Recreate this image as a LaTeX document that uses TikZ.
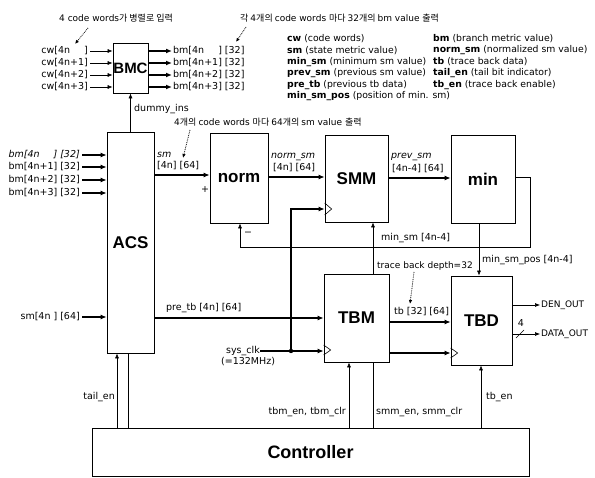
\documentclass[tikz,border=0pt]{standalone}
\usepackage{fontspec}
\setmainfont{DejaVu Sans}
\newfontfamily\kr{Noto Sans CJK KR}
\newfontfamily\titlef{Liberation Sans}
\usetikzlibrary{arrows.meta,calc}
\newcommand\lblfont{\fontsize{9.5}{10}\selectfont}
\newcommand\outfont{\fontsize{9}{10}\selectfont}
\newcommand\legfont{\fontsize{9.3}{10}\selectfont}
\newcommand\annfont{\fontsize{9}{10}\selectfont}
\newcommand\boxfont{\titlef\bfseries\fontsize{17}{17}\selectfont}
\begin{document}
\begin{tikzpicture}[x=1pt,y=-1pt]
\tikzset{
 box/.style={draw, line width=0.7pt, fill=white, inner sep=0pt, font=\boxfont},
 lbl/.style={inner sep=0pt, font=\lblfont},
 ilbl/.style={inner sep=0pt, font=\lblfont\itshape},
 ann/.style={inner sep=0pt, anchor=west, font=\annfont},
 leg/.style={inner sep=0pt, anchor=west, font=\legfont},
 sig/.style={line width=0.6pt, -{Latex[length=5pt,width=4pt]}},
 bus/.style={line width=1.4pt, -{Latex[length=6pt,width=5pt]}},
 wire/.style={line width=0.6pt},
 thick wire/.style={line width=1.4pt},
 note/.style={densely dotted, line width=0.8pt, -{Latex[length=4pt,width=3.5pt]}},
 clkmark/.style={line width=0.6pt}
}
\useasboundingbox (0,0) rectangle (595,478);

% ---------- blocks ----------
\node[box, minimum width=35pt, minimum height=50pt, font=\titlef\bfseries\fontsize{15}{15}\selectfont] (BMC) at (130.5,68) {BMC};
\node[box, minimum width=47pt, minimum height=221pt] (ACS) at (130.5,242.5) {ACS};
\node[box, minimum width=58pt, minimum height=90pt] (norm) at (239,178) {norm};
\node[box, minimum width=63pt, minimum height=87pt] (SMM) at (356.5,178.5) {SMM};
\node[box, minimum width=64pt, minimum height=88pt] (min) at (483,179) {min};
\node[box, minimum width=65pt, minimum height=88pt] (TBM) at (356.5,318) {TBM};
\node[box, minimum width=61pt, minimum height=89pt] (TBD) at (481.5,320.5) {TBD};
\node[box, minimum width=437pt, minimum height=48pt, font=\titlef\bfseries\fontsize{18}{18}\selectfont] (ctrl) at (310.5,452) {Controller};

% ---------- annotations ----------
\node[ann] (ann1) at (59,18) {4 code words{\kr 가 병렬로 입력}};
\node[ann] (ann2) at (240,18) {{\kr 각 }4{\kr 개의 }code words {\kr 마다 }32{\kr 개의 }bm value {\kr 출력}};
\node[ann] (ann3) at (174,122) {4{\kr 개의 }code words {\kr 마다 }64{\kr 개의 }sm value {\kr 출력}};
\node[ann] (ann4) at (377,266) {trace back depth=32};
\coordinate (n1a) at (88,28); \coordinate (n1b) at (75,44);
\coordinate (n2a) at (246,27); \coordinate (n2b) at (236,42);
\coordinate (n3a) at (190,130); \coordinate (n3b) at (183,158);
\coordinate (n4a) at (414,272); \coordinate (n4b) at (410,304);
\draw[note] (n1a) -- (n1b);
\draw[note] (n2a) -- (n2b);
\draw[note] (n3a) -- (n3b);
\draw[note] (n4a) -- (n4b);

% ---------- legend ----------
\node[leg] (l1) at (287,39) {\textbf{cw} (code words)};
\node[leg] (l2) at (287,50.5) {\textbf{sm} (state metric value)};
\node[leg] (l3) at (287,62) {\textbf{min\_sm} (minimum sm value)};
\node[leg] (l4) at (287,73.5) {\textbf{prev\_sm} (previous sm value)};
\node[leg] (l5) at (287,85) {\textbf{pre\_tb} (previous tb data)};
\node[leg] (l6) at (287,96.5) {\textbf{min\_sm\_pos} (position of min. sm)};
\node[leg] (r1) at (433,39) {\textbf{bm} (branch metric value)};
\node[leg] (r2) at (433,50.5) {\textbf{norm\_sm} (normalized sm value)};
\node[leg] (r3) at (433,62) {\textbf{tb} (trace back data)};
\node[leg] (r4) at (433,73.5) {\textbf{tail\_en} (tail bit indicator)};
\node[leg] (r5) at (433,85) {\textbf{tb\_en} (trace back enable)};

% ---------- BMC inputs / outputs ----------
\node[lbl, anchor=east] (cw0) at (88,51) {cw[4n\phantom{+1}]};
\node[lbl, anchor=east] (cw1) at (88,63) {cw[4n+1]};
\node[lbl, anchor=east] (cw2) at (88,75) {cw[4n+2]};
\node[lbl, anchor=east] (cw3) at (88,87) {cw[4n+3]};
\foreach \n in {cw0,cw1,cw2,cw3}
  \draw[sig] ([xshift=2pt]\n.east) -- (BMC.west |- \n.east);
\node[lbl, anchor=west] (bmo0) at (173,51) {bm[4n\phantom{+1}] [32]};
\node[lbl, anchor=west] (bmo1) at (173,63) {bm[4n+1] [32]};
\node[lbl, anchor=west] (bmo2) at (173,75) {bm[4n+2] [32]};
\node[lbl, anchor=west] (bmo3) at (173,87) {bm[4n+3] [32]};
\foreach \n in {bmo0,bmo1,bmo2,bmo3}
  \draw[bus] (BMC.east |- \n.west) -- ([xshift=-1pt]\n.west);

\draw[sig] (ACS.north) -- (BMC.south);
\node[lbl, anchor=west] (dummy) at (134,109) {dummy\_ins};

% ---------- ACS inputs ----------
\node[ilbl, anchor=east] (bmi0) at (80,155) {bm[4n\phantom{+1}] [32]};
\node[lbl, anchor=east] (bmi1) at (80,167) {bm[4n+1] [32]};
\node[lbl, anchor=east] (bmi2) at (80,180) {bm[4n+2] [32]};
\node[lbl, anchor=east] (bmi3) at (80,193) {bm[4n+3] [32]};
\foreach \n in {bmi0,bmi1,bmi2,bmi3}
  \draw[bus, line width=1.2pt] ([xshift=2pt]\n.east) -- (ACS.west |- \n.east);
\node[lbl, anchor=east] (smin) at (80,317) {sm[4n ] [64]};
\draw[bus, line width=1.2pt] ([xshift=2pt]smin.east) -- (ACS.west |- smin.east);

% ---------- sm -> norm -> SMM -> min ----------
\draw[bus] (ACS.east |- 0,175) -- (norm.west |- 0,175);
\node[ilbl, anchor=west] (smlab) at (157,155) {sm};
\node[lbl, anchor=west] (smlab2) at (157,166) {[4n] [64]};
\node[lbl] (plus) at (205,190) {+};
\node[lbl] (minus) at (248,234) {\textminus};

\draw[bus] (norm.east |- 0,177) -- (SMM.west |- 0,177);
\node[ilbl, anchor=west] (nslab) at (271,157) {norm\_sm};
\node[lbl, anchor=west] (nslab2) at (273,168) {[4n] [64]};

\draw[bus] (SMM.east |- 0,178) -- (min.west |- 0,178);
\node[ilbl, anchor=west] (pslab) at (391,157) {prev\_sm};
\node[lbl, anchor=west] (pslab2) at (392,169) {[4n-4] [64]};

% ---------- min outputs ----------
\coordinate (mj) at (479,247);
\draw[sig] (min.south -| mj) -- (TBD.north -| mj);
\draw[wire] (min.east |- 0,177) -- (530,177) -- (530,247) -- (mj);
\draw[sig] (mj) -- (240,247) -- (norm.south -| 240,0);
\node[lbl, anchor=west] (mslab) at (381,238) {min\_sm [4n-4]};
\node[lbl, anchor=west] (mplab) at (482,260) {min\_sm\_pos [4n-4]};

% ---------- pre_tb ----------
\draw[bus] (ACS.east |- 0,318) -- (TBM.west |- 0,318);
\node[lbl, anchor=west] (ptlab) at (166,308) {pre\_tb [4n] [64]};

% ---------- clock ----------
\node[lbl, anchor=east] (sysclk) at (260,351) {sys\_clk};
\node[lbl, anchor=north west] (sysclk2) at (221,357) {(=132MHz)};
\coordinate (clkdot) at (291,351);
\draw[thick wire] (sysclk.east) -- (clkdot);
\draw[bus] (clkdot) -- (TBM.west |- clkdot);
\draw[bus] (clkdot) -- (clkdot |- 0,209) -- (SMM.west |- 0,209);
\fill (clkdot) circle (2.2pt);
\draw[clkmark] (SMM.west |- 0,203) -- ++(7,6) -- ++(-7,6);
\draw[clkmark] (TBM.west |- 0,345) -- ++(7,5) -- ++(-7,5);
\draw[bus] (TBM.east |- 0,353) -- (TBD.west |- 0,353);
\draw[clkmark] (TBD.west |- 0,348) -- ++(7,5) -- ++(-7,5);

% ---------- TBM -> TBD ----------
\draw[bus] (TBM.east |- 0,322) -- (TBD.west |- 0,322);
\node[lbl, anchor=west] (tblab) at (394,312) {tb [32] [64]};

% ---------- outputs ----------
\node[lbl, anchor=west, font=\outfont] (den) at (541,305) {DEN\_OUT};
\node[lbl, anchor=west, font=\outfont] (dout) at (541,334) {DATA\_OUT};
\draw[sig] (TBD.east |- den.west) -- ([xshift=-1pt]den.west);
\draw[sig] (TBD.east |- dout.west) -- ([xshift=-1pt]dout.west);
\draw[wire] (516,338) -- (524,330);
\node[lbl] (four) at (521,323) {4};

% ---------- controller signals ----------
\draw[sig] (ctrl.north -| 117,0) -- (ACS.south -| 117,0);
\draw[wire] (ctrl.north -| 128,0) -- (ACS.south -| 128,0);
\node[lbl, anchor=east] (tail) at (115,397) {tail\_en};

\draw[sig] (ctrl.north -| 349,0) -- (TBM.south -| 349,0);
\node[lbl, anchor=east] (tbmen) at (346,412) {tbm\_en, tbm\_clr};

\draw[wire] (ctrl.north -| 373,0) -- (TBM.south -| 373,0);
\draw[sig] (TBM.north -| 373,0) -- (SMM.south -| 373,0);
\node[lbl, anchor=west] (smmen) at (376,412) {smm\_en, smm\_clr};

\draw[sig] (ctrl.north -| 481,0) -- (TBD.south -| 481,0);
\node[lbl, anchor=west] (tben) at (486,397) {tb\_en};
\end{tikzpicture}
\end{document}
